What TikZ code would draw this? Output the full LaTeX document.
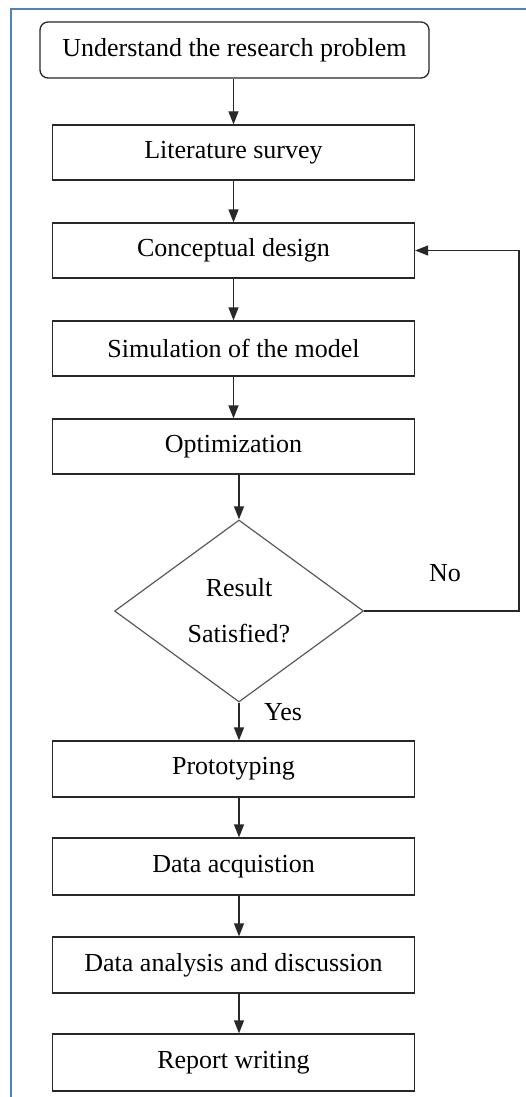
\documentclass[tikz,border=0pt]{standalone}
\usepackage{fontspec}
\setmainfont{Liberation Serif}
\usetikzlibrary{shapes.geometric,arrows.meta}
\definecolor{frameblue}{RGB}{79,129,189}
\definecolor{linegrey}{RGB}{40,40,40}
\definecolor{diagrey}{RGB}{90,90,90}
\tikzset{
  stepbox/.style={draw=linegrey, line width=1.3pt, minimum width=362pt, minimum height=55pt, inner sep=0pt, font=\fontsize{26}{31}\selectfont},
  startbox/.style={stepbox, rounded corners=8pt, minimum width=389pt, minimum height=56pt},
  decision/.style={diamond, draw=diagrey, line width=1.2pt, minimum width=249pt, minimum height=182pt, aspect=1.37, inner sep=0pt, align=center, font=\fontsize{26}{31}\selectfont},
  flow/.style={draw=linegrey, line width=1.3pt, -{Triangle[length=13pt,width=10pt]}},
  lbl/.style={font=\fontsize{26}{31}\selectfont, inner sep=0pt}
}
\begin{document}
\begin{tikzpicture}[x=1pt,y=-1pt]
\useasboundingbox (0,0) rectangle (526,1097);
\fill[white] (0,0) rectangle (526,1097);
% blue frame
\draw[frameblue, line width=2pt] (526,9.5) -- (11,9.5) -- (11,1097);
% nodes
\node[startbox] (n0) at (234.5,50) {Understand the research problem};
\node[stepbox] (n1) at (233.5,152.5) {Literature survey};
\node[stepbox] (n2) at (233.5,250.5) {Conceptual design};
\node[stepbox] (n3) at (233.5,348.5) {Simulation of the model};
\node[stepbox] (n4) at (233.5,446.5) {Optimization};
\node[decision] (d) at (239,611) {Result\\[15pt]Satisfied?};
\node[stepbox, minimum height=56pt] (n5) at (233.5,769) {Prototyping};
\node[stepbox, minimum height=57pt] (n6) at (233.5,866.5) {Data acquistion};
\node[stepbox, minimum height=56pt] (n7) at (233.5,965) {Data analysis and discussion};
\node[stepbox, minimum height=57pt] (n8) at (233.5,1062.5) {Report writing};
\node[lbl] (no) at (445,573) {No};
\node[lbl] (yes) at (283,712) {Yes};
\coordinate (fb) at (519,611);
% connectors
\draw[flow] (n0.south -| n1.north) -- (n1.north);
\draw[flow] (n1) -- (n2);
\draw[flow] (n2) -- (n3);
\draw[flow] (n3) -- (n4);
\draw[flow] (n4.south -| d.north) -- (d.north);
\draw[flow] (d.south) -- (n5.north -| d.south);
\draw[flow] (n5.south -| d.south) -- (n6.north -| d.south);
\draw[flow] (n6.south -| d.south) -- (n7.north -| d.south);
\draw[flow] (n7.south -| d.south) -- (n8.north -| d.south);
\draw[flow] (d.east) -- (fb) |- (n2.east);
\end{tikzpicture}
\end{document}
